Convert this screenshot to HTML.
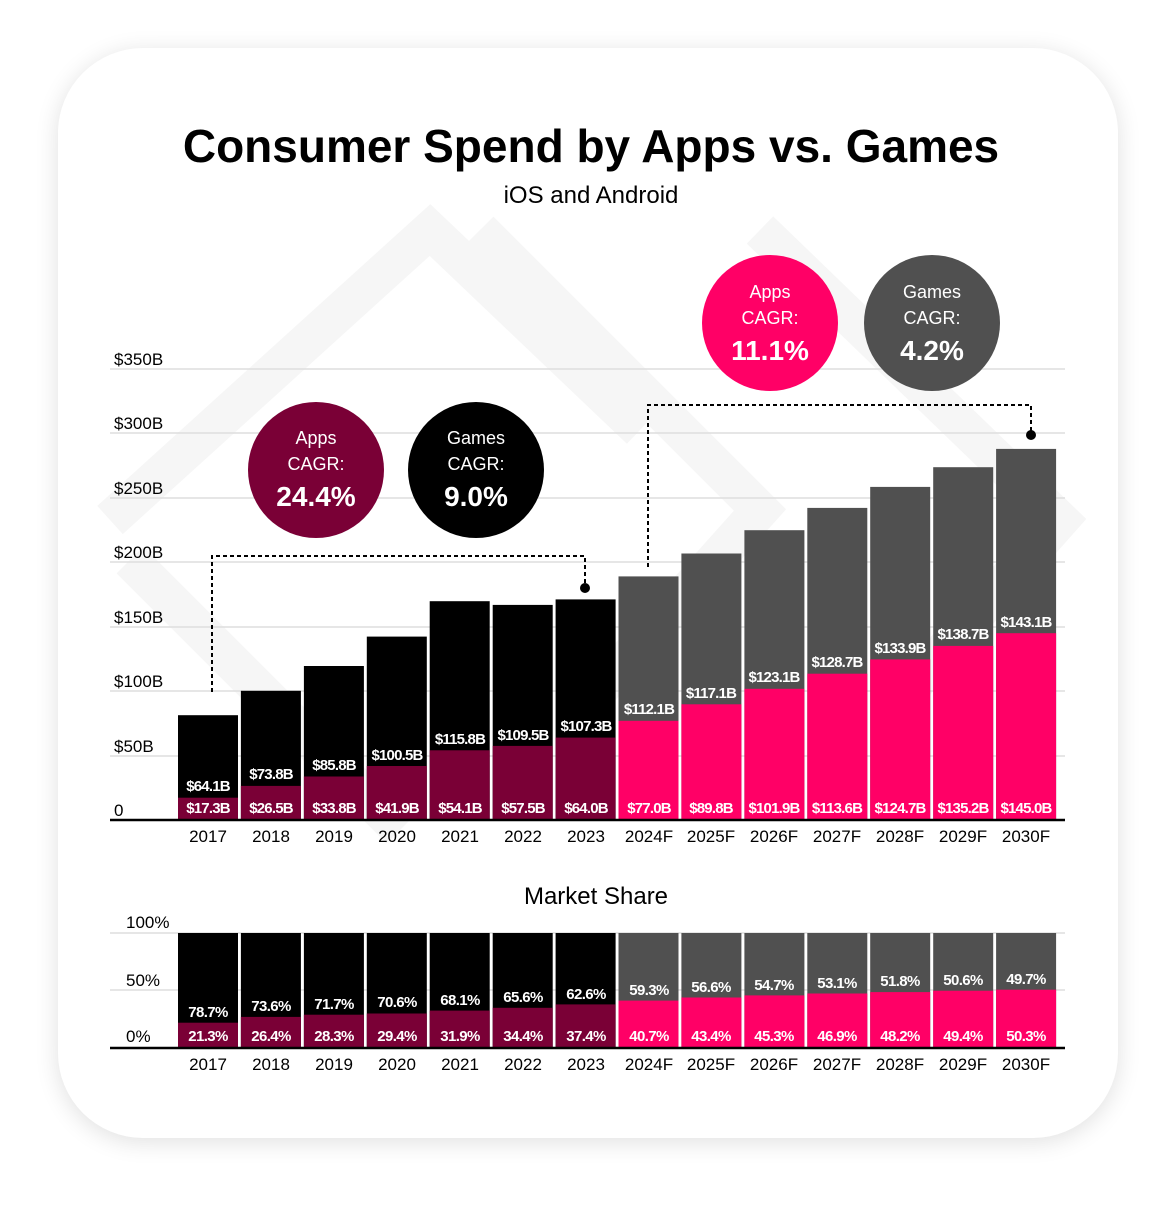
<!DOCTYPE html>
<html><head><meta charset="utf-8"><style>
html,body{margin:0;padding:0;background:#fff;width:1176px;height:1206px;overflow:hidden}
svg text{font-family:"Liberation Sans",sans-serif}
</style></head><body>
<svg width="1176" height="1206" viewBox="0 0 1176 1206" xmlns="http://www.w3.org/2000/svg">
<defs><filter id="sh" x="-10%" y="-10%" width="120%" height="120%"><feGaussianBlur stdDeviation="12"/></filter></defs>
<rect x="58" y="52" width="1060" height="1090" rx="85" fill="#000" opacity="0.12" filter="url(#sh)"/>
<rect x="58" y="48" width="1060" height="1090" rx="85" fill="#fff"/>
<g fill="none" stroke="#f6f6f6" stroke-width="38">
<polyline points="110,520 430,230 640,430"/>
<polyline points="480,230 760,510 590,700"/>
<polyline points="760,230 1060,520 900,700"/>
<polyline points="130,560 400,830"/>
</g>
<text x="591" y="162" text-anchor="middle" font-size="46" font-weight="bold" fill="#000">Consumer Spend by Apps vs. Games</text>
<text x="591" y="203" text-anchor="middle" font-size="24" fill="#000">iOS and Android</text>
<g stroke="#ddd" stroke-width="1.5">
<line x1="110" y1="369" x2="1065" y2="369"/><line x1="110" y1="433" x2="1065" y2="433"/><line x1="110" y1="498" x2="1065" y2="498"/><line x1="110" y1="562" x2="1065" y2="562"/><line x1="110" y1="627" x2="1065" y2="627"/><line x1="110" y1="691" x2="1065" y2="691"/><line x1="110" y1="756" x2="1065" y2="756"/>
<line x1="110" y1="933" x2="1065" y2="933"/><line x1="110" y1="990" x2="1065" y2="990"/>
</g>
<g font-size="17" fill="#000">
<text x="114" y="365">$350B</text><text x="114" y="429">$300B</text><text x="114" y="494">$250B</text><text x="114" y="558">$200B</text><text x="114" y="623">$150B</text><text x="114" y="687">$100B</text><text x="114" y="752">$50B</text><text x="114" y="816">0</text>
<text x="126" y="928">100%</text><text x="126" y="986">50%</text><text x="126" y="1042">0%</text>
</g>
<g fill="none" stroke="#000" stroke-width="2" stroke-dasharray="4,3">
<polyline points="212,692 212,556 585,556 585,588"/>
<polyline points="648,567 648,405 1031,405 1031,435"/>
</g>
<circle cx="585" cy="588" r="5"/><circle cx="1031" cy="435" r="5"/>
<g>
<rect x="178" y="715.2" width="60" height="104.8" fill="#000"/><rect x="178" y="797.7" width="60" height="22.3" fill="#7a0036"/>
<rect x="240.9" y="690.8" width="60" height="129.2" fill="#000"/><rect x="240.9" y="785.9" width="60" height="34.1" fill="#7a0036"/>
<rect x="303.9" y="666" width="60" height="154" fill="#000"/><rect x="303.9" y="776.5" width="60" height="43.5" fill="#7a0036"/>
<rect x="366.8" y="636.6" width="60" height="183.4" fill="#000"/><rect x="366.8" y="766" width="60" height="54" fill="#7a0036"/>
<rect x="429.7" y="601.2" width="60" height="218.8" fill="#000"/><rect x="429.7" y="750.3" width="60" height="69.7" fill="#7a0036"/>
<rect x="492.7" y="604.9" width="60" height="215.1" fill="#000"/><rect x="492.7" y="745.9" width="60" height="74.1" fill="#7a0036"/>
<rect x="555.6" y="599.4" width="60" height="220.6" fill="#000"/><rect x="555.6" y="737.6" width="60" height="82.4" fill="#7a0036"/>
<rect x="618.5" y="576.4" width="60" height="243.6" fill="#505050"/><rect x="618.5" y="720.8" width="60" height="99.2" fill="#ff0066"/>
<rect x="681.4" y="553.5" width="60" height="266.5" fill="#505050"/><rect x="681.4" y="704.3" width="60" height="115.7" fill="#ff0066"/>
<rect x="744.4" y="530.2" width="60" height="289.8" fill="#505050"/><rect x="744.4" y="688.8" width="60" height="131.2" fill="#ff0066"/>
<rect x="807.3" y="507.9" width="60" height="312.1" fill="#505050"/><rect x="807.3" y="673.7" width="60" height="146.3" fill="#ff0066"/>
<rect x="870.2" y="486.9" width="60" height="333.1" fill="#505050"/><rect x="870.2" y="659.4" width="60" height="160.6" fill="#ff0066"/>
<rect x="933.2" y="467.2" width="60" height="352.8" fill="#505050"/><rect x="933.2" y="645.9" width="60" height="174.1" fill="#ff0066"/>
<rect x="996.1" y="448.9" width="60" height="371.1" fill="#505050"/><rect x="996.1" y="633.2" width="60" height="186.8" fill="#ff0066"/>
</g>
<line x1="110" y1="820" x2="1065" y2="820" stroke="#000" stroke-width="2.5"/>
<g font-size="15" font-weight="bold" fill="#fff" text-anchor="middle" letter-spacing="-0.8">
<text x="208" y="813">$17.3B</text><text x="271" y="813">$26.5B</text><text x="334" y="813">$33.8B</text><text x="397" y="813">$41.9B</text><text x="460" y="813">$54.1B</text><text x="523" y="813">$57.5B</text><text x="586" y="813">$64.0B</text><text x="649" y="813">$77.0B</text><text x="711" y="813">$89.8B</text><text x="774" y="813">$101.9B</text><text x="837" y="813">$113.6B</text><text x="900" y="813">$124.7B</text><text x="963" y="813">$135.2B</text><text x="1026" y="813">$145.0B</text>
<text x="208" y="791">$64.1B</text><text x="271" y="779">$73.8B</text><text x="334" y="770">$85.8B</text><text x="397" y="760">$100.5B</text><text x="460" y="744">$115.8B</text><text x="523" y="740">$109.5B</text><text x="586" y="731">$107.3B</text><text x="649" y="714">$112.1B</text><text x="711" y="698">$117.1B</text><text x="774" y="682">$123.1B</text><text x="837" y="667">$128.7B</text><text x="900" y="653">$133.9B</text><text x="963" y="639">$138.7B</text><text x="1026" y="627">$143.1B</text>
</g>
<g font-size="17" fill="#000" text-anchor="middle">
<text x="208" y="842">2017</text><text x="271" y="842">2018</text><text x="334" y="842">2019</text><text x="397" y="842">2020</text><text x="460" y="842">2021</text><text x="523" y="842">2022</text><text x="586" y="842">2023</text><text x="649" y="842">2024F</text><text x="711" y="842">2025F</text><text x="774" y="842">2026F</text><text x="837" y="842">2027F</text><text x="900" y="842">2028F</text><text x="963" y="842">2029F</text><text x="1026" y="842">2030F</text>
</g>
<circle cx="316" cy="470" r="68" fill="#7a0036"/><circle cx="476" cy="470" r="68" fill="#000"/>
<circle cx="770" cy="323" r="68" fill="#ff0066"/><circle cx="932" cy="323" r="68" fill="#505050"/>
<g fill="#fff" text-anchor="middle">
<g font-size="18"><text x="316" y="444">Apps</text><text x="316" y="470">CAGR:</text><text x="476" y="444">Games</text><text x="476" y="470">CAGR:</text>
<text x="770" y="298">Apps</text><text x="770" y="324">CAGR:</text><text x="932" y="298">Games</text><text x="932" y="324">CAGR:</text></g>
<g font-size="28" font-weight="bold"><text x="316" y="506">24.4%</text><text x="476" y="506">9.0%</text><text x="770" y="360">11.1%</text><text x="932" y="360">4.2%</text></g>
</g>
<text x="596" y="904" text-anchor="middle" font-size="24" fill="#000">Market Share</text>
<g>
<rect x="178" y="933" width="60" height="114" fill="#000"/><rect x="178" y="1022.7" width="60" height="24.3" fill="#7a0036"/>
<rect x="240.9" y="933" width="60" height="114" fill="#000"/><rect x="240.9" y="1016.9" width="60" height="30.1" fill="#7a0036"/>
<rect x="303.9" y="933" width="60" height="114" fill="#000"/><rect x="303.9" y="1014.7" width="60" height="32.3" fill="#7a0036"/>
<rect x="366.8" y="933" width="60" height="114" fill="#000"/><rect x="366.8" y="1013.5" width="60" height="33.5" fill="#7a0036"/>
<rect x="429.7" y="933" width="60" height="114" fill="#000"/><rect x="429.7" y="1010.6" width="60" height="36.4" fill="#7a0036"/>
<rect x="492.7" y="933" width="60" height="114" fill="#000"/><rect x="492.7" y="1007.8" width="60" height="39.2" fill="#7a0036"/>
<rect x="555.6" y="933" width="60" height="114" fill="#000"/><rect x="555.6" y="1004.4" width="60" height="42.6" fill="#7a0036"/>
<rect x="618.5" y="933" width="60" height="114" fill="#505050"/><rect x="618.5" y="1000.6" width="60" height="46.4" fill="#ff0066"/>
<rect x="681.4" y="933" width="60" height="114" fill="#505050"/><rect x="681.4" y="997.5" width="60" height="49.5" fill="#ff0066"/>
<rect x="744.4" y="933" width="60" height="114" fill="#505050"/><rect x="744.4" y="995.4" width="60" height="51.6" fill="#ff0066"/>
<rect x="807.3" y="933" width="60" height="114" fill="#505050"/><rect x="807.3" y="993.5" width="60" height="53.5" fill="#ff0066"/>
<rect x="870.2" y="933" width="60" height="114" fill="#505050"/><rect x="870.2" y="992.1" width="60" height="54.9" fill="#ff0066"/>
<rect x="933.2" y="933" width="60" height="114" fill="#505050"/><rect x="933.2" y="990.7" width="60" height="56.3" fill="#ff0066"/>
<rect x="996.1" y="933" width="60" height="114" fill="#505050"/><rect x="996.1" y="989.7" width="60" height="57.3" fill="#ff0066"/>
</g>
<line x1="110" y1="1048" x2="1065" y2="1048" stroke="#000" stroke-width="2.5"/>
<g font-size="15" font-weight="bold" fill="#fff" text-anchor="middle" letter-spacing="-0.6">
<text x="208" y="1041">21.3%</text><text x="271" y="1041">26.4%</text><text x="334" y="1041">28.3%</text><text x="397" y="1041">29.4%</text><text x="460" y="1041">31.9%</text><text x="523" y="1041">34.4%</text><text x="586" y="1041">37.4%</text><text x="649" y="1041">40.7%</text><text x="711" y="1041">43.4%</text><text x="774" y="1041">45.3%</text><text x="837" y="1041">46.9%</text><text x="900" y="1041">48.2%</text><text x="963" y="1041">49.4%</text><text x="1026" y="1041">50.3%</text>
<text x="208" y="1017">78.7%</text><text x="271" y="1011">73.6%</text><text x="334" y="1009">71.7%</text><text x="397" y="1007">70.6%</text><text x="460" y="1005">68.1%</text><text x="523" y="1002">65.6%</text><text x="586" y="999">62.6%</text><text x="649" y="995">59.3%</text><text x="711" y="992">56.6%</text><text x="774" y="990">54.7%</text><text x="837" y="988">53.1%</text><text x="900" y="986">51.8%</text><text x="963" y="985">50.6%</text><text x="1026" y="984">49.7%</text>
</g>
<g font-size="17" fill="#000" text-anchor="middle">
<text x="208" y="1070">2017</text><text x="271" y="1070">2018</text><text x="334" y="1070">2019</text><text x="397" y="1070">2020</text><text x="460" y="1070">2021</text><text x="523" y="1070">2022</text><text x="586" y="1070">2023</text><text x="649" y="1070">2024F</text><text x="711" y="1070">2025F</text><text x="774" y="1070">2026F</text><text x="837" y="1070">2027F</text><text x="900" y="1070">2028F</text><text x="963" y="1070">2029F</text><text x="1026" y="1070">2030F</text>
</g>
</svg>
</body></html>
